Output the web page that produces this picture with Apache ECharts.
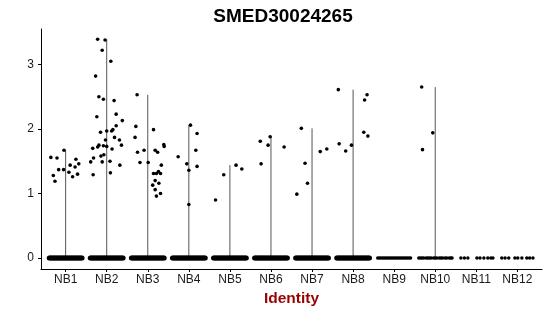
<!DOCTYPE html>
<html>
<head>
<meta charset="utf-8">
<script src="https://cdn.jsdelivr.net/npm/echarts@6/dist/echarts.min.js"></script>
<style>html,body{margin:0;padding:0;background:#fff}#c{width:550px;height:316px}</style>
</head>
<body>
<div id="c"></div>
<script>
const title = 'SMED30024265';
const xName = 'Identity';
const categories = ['NB1','NB2','NB3','NB4','NB5','NB6','NB7','NB8','NB9','NB10','NB11','NB12'];
const yTicks = [0, 1, 2, 3];

// non-zero cells: [jitter offset, expression]
const nb1 = [[-0.36,1.56],[-0.21,1.55],[-0.04,1.67],[-0.30,1.28],[-0.26,1.19],[-0.17,1.37],[-0.05,1.37],
  [0.11,1.44],[0.25,1.53],[0.23,1.41],[0.32,1.46],[0.08,1.33],[0.17,1.26],[0.29,1.30]];
const nb2 = [[-0.22,3.39],[-0.04,3.38],[-0.11,3.22],[0.10,3.05],[-0.27,2.82],[-0.19,2.50],[-0.08,2.46],
  [0.18,2.44],[-0.24,2.19],[0.23,2.23],[0.38,2.13],[0.23,2.05],[0.15,1.99],[0.12,1.97],[0.00,1.97],
  [-0.15,1.95],[-0.03,1.83],[0.19,1.87],[0.31,1.83],[0.36,1.75],[-0.19,1.75],[-0.08,1.74],[0.00,1.73],
  [0.13,1.69],[-0.34,1.70],[-0.22,1.72],[-0.07,1.60],[-0.14,1.58],[-0.32,1.55],[-0.39,1.49],[-0.11,1.49],
  [0.08,1.50],[0.32,1.44],[-0.33,1.29],[0.09,1.32]];
const nb3 = [[-0.26,2.53],[-0.29,2.04],[0.14,1.99],[-0.31,1.87],[0.39,1.76],[0.40,1.73],[-0.09,1.67],
  [0.18,1.67],[0.24,1.64],[-0.25,1.64],[-0.19,1.48],[0.01,1.48],[0.33,1.44],[0.14,1.31],[0.26,1.34],
  [0.31,1.31],[0.21,1.31],[0.18,1.20],[0.27,1.16],[0.12,1.13],[0.18,1.06],[0.31,1.00],[0.21,0.96]];
const nb4 = [[0.04,2.06],[0.20,1.93],[0.17,1.67],[-0.26,1.57],[-0.05,1.46],[0.00,1.36],[0.20,1.42],[0.00,0.83]];
const nb5 = [[-0.35,0.90],[-0.15,1.29],[0.15,1.44],[0.29,1.38]];
const nb6 = [[-0.02,1.88],[-0.26,1.81],[-0.07,1.75],[0.32,1.72],[-0.24,1.46]];
const nb7 = [[-0.26,2.01],[-0.17,1.47],[-0.11,1.16],[-0.37,0.99],[0.20,1.65],[0.36,1.69]];
const nb8 = [[-0.36,2.61],[0.34,2.53],[0.28,2.45],[0.26,1.95],[0.36,1.89],[-0.34,1.77],[-0.18,1.66],[-0.04,1.75]];
const nb9 = [];
const nb10 = [[-0.33,2.65],[-0.06,1.94],[-0.31,1.68]];
const nb11 = [];
const nb12 = [];
const nonZero = [nb1,nb2,nb3,nb4,nb5,nb6,nb7,nb8,nb9,nb10,nb11,nb12];

// zero-expression cells: jitter offsets
const zeroDense = [-0.400,-0.375,-0.350,-0.325,-0.300,-0.275,-0.250,-0.225,-0.200,-0.175,-0.150,-0.125,
  -0.100,-0.075,-0.050,-0.025,0.000,0.025,0.050,0.075,0.100,0.125,0.150,0.175,0.200,0.225,0.250,
  0.275,0.300,0.325,0.350,0.375,0.400];
const zeroNB9 = [-0.40,-0.36,-0.32,-0.28,-0.24,-0.20,-0.16,-0.12,-0.08,-0.04,0.00,0.04,0.08,0.12,0.16,0.20,0.24,0.28,0.32,0.36,0.40];
const zeroNB10 = [-0.40,-0.36,-0.32,-0.28,-0.22,-0.18,-0.14,-0.10,-0.04,0.00,0.04,0.10,0.14,0.18,0.24,0.28,0.34,0.38,0.41];
const zeroNB11 = [-0.375,-0.29,-0.205,0.015,0.09,0.185,0.28,0.355,0.405];
const zeroNB12 = [-0.38,-0.30,-0.21,-0.06,0.01,0.11,0.23,0.30,0.38];
const zeroOffsets = [zeroDense,zeroDense,zeroDense,zeroDense,zeroDense,zeroDense,zeroDense,zeroDense,
  zeroNB9,zeroNB10,zeroNB11,zeroNB12];

const FONT = 'Liberation Sans, Arial, sans-serif';

const pointData = [];
nonZero.forEach((arr, i) => arr.forEach(p => pointData.push([i + p[0], p[1]])));
const denseZero = [], sparseZero = [];
zeroOffsets.forEach((arr, i) => arr.forEach(o => (i < 8 ? denseZero : sparseZero).push([i + o, 0])));
const lineData = [];
nonZero.forEach((arr, i) => { if (arr.length) lineData.push([i, Math.max(...arr.map(p => p[1]))]); });
const idx = categories.map((c, i) => i);

const chart = echarts.init(document.getElementById('c'), null, {renderer: 'canvas'});
chart.setOption({
  animation: false,
  backgroundColor: '#fff',
  title: {
    text: title, left: 278, top: 2, textAlign: 'center',
    textStyle: {fontFamily: FONT, fontWeight: 'bold', fontSize: 19, color: '#000'}
  },
  grid: {left: 41, right: 8, top: 29, bottom: 47, containLabel: false},
  xAxis: {
    type: 'value', min: -0.6, max: 11.6,
    name: xName, nameLocation: 'middle', nameGap: 21,
    nameTextStyle: {fontFamily: FONT, fontWeight: 'bold', fontSize: 15.5, color: '#990000'},
    axisLine: {show: true, onZero: false, lineStyle: {color: '#000', width: 1}},
    axisTick: {show: true, length: 3, customValues: idx, lineStyle: {color: '#000'}},
    axisLabel: {customValues: idx, margin: 5, fontFamily: FONT, fontSize: 12, color: '#1a1a1a',
      formatter: v => categories[Math.round(v)]},
    splitLine: {show: false}
  },
  yAxis: {
    type: 'value', min: -0.17, max: 3.55,
    axisLine: {show: true, onZero: false, lineStyle: {color: '#000', width: 1}},
    axisTick: {show: true, length: 3, customValues: yTicks, lineStyle: {color: '#000'}},
    axisLabel: {customValues: yTicks, margin: 7, fontFamily: FONT, fontSize: 12, color: '#1a1a1a'},
    splitLine: {show: false}
  },
  series: [
    {
      type: 'custom', data: lineData, z: 1, silent: true,
      renderItem: (params, api) => {
        const p0 = api.coord([api.value(0), 0]);
        const p1 = api.coord([api.value(0), api.value(1)]);
        return {type: 'line', shape: {x1: p0[0], y1: p0[1], x2: p1[0], y2: p1[1]},
          style: {stroke: '#555', lineWidth: 1}};
      }
    },
    {type: 'scatter', data: denseZero, symbolSize: 5, itemStyle: {color: '#000', opacity: 1}, z: 2, silent: true},
    {type: 'scatter', data: sparseZero, symbolSize: 3.5, itemStyle: {color: '#000', opacity: 1}, z: 2, silent: true},
    {type: 'scatter', data: pointData, symbolSize: 3.6, itemStyle: {color: '#000', opacity: 1}, z: 3, silent: true}
  ]
});
</script>
</body>
</html>
